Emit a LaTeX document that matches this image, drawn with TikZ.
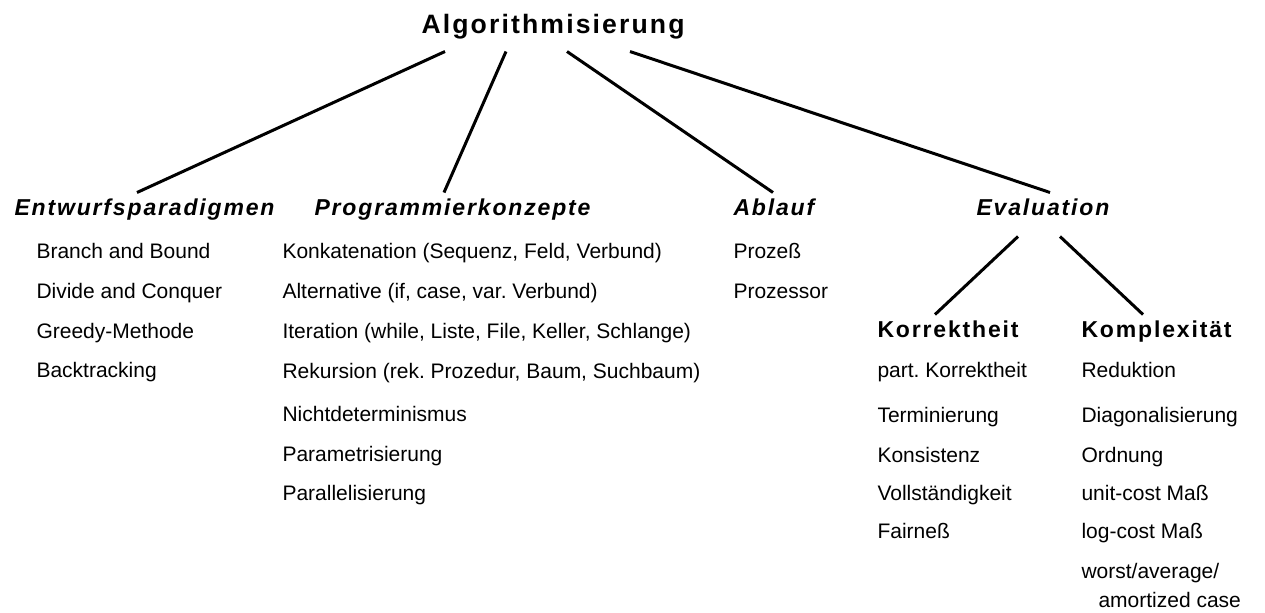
\documentclass[tikz,border=0pt]{standalone}
\usepackage{fontspec}
\setmainfont{Liberation Sans}
\newfontfamily\headfont[LetterSpace=8]{Liberation Sans}
\frenchspacing

\tikzset{
    root/.style={anchor=base west, inner sep=0pt, text depth=8.5pt,
        font=\fontsize{13.3}{16}\selectfont\headfont\bfseries},
    head/.style={anchor=base west, inner sep=0pt, text height=10.5pt, text depth=10pt,
        font=\fontsize{11.5}{14}\selectfont\headfont\bfseries\itshape},
    subhead/.style={anchor=base west, inner sep=0pt, text height=10.5pt,
        font=\fontsize{11.5}{14}\selectfont\headfont\bfseries},
    item/.style={anchor=base west, inner sep=0pt, align=left,
        font=\fontsize{10.5}{14.5}\selectfont\frenchspacing}
}

\begin{document}
\begin{tikzpicture}[x=0.5pt, y=-0.5pt, line width=1.5pt]
    % Page frame
    \useasboundingbox (0,0) rectangle (1265,612);

    % Title
    \node[root] (alg) at (420,33) {Algorithmisierung};

    % The four areas
    \node[head] (ent)  at (13,215)  {Entwurfsparadigmen};
    \node[head] (prog) at (313,215) {Programmierkonzepte};
    \node[head] (abl)  at (732,215) {Ablauf};
    \node[head] (eval) at (975,215) {Evaluation};

    % Evaluation splits in two
    \node[subhead] (kor) at (876,337)  {Korrektheit};
    \node[subhead] (kom) at (1080,337) {Komplexität};

    % Lines from the title down to the areas
    \draw ([xshift=12.5pt]alg.south west) -- ([xshift=62pt]ent.north west);
    \draw ([xshift=43pt]alg.south west)   -- ([xshift=65.5pt]prog.north west);
    \draw ([xshift=73.5pt]alg.south west) -- ([xshift=20.5pt]abl.north west);
    \draw ([xshift=105pt]alg.south west)  -- ([xshift=37.5pt]eval.north west);

    % Lines below Evaluation
    \draw ([xshift=21.5pt]eval.south west) -- ([xshift=29.5pt]kor.north west);
    \draw ([xshift=42.5pt]eval.south west) -- ([xshift=31.5pt]kom.north west);

    % Items of each area
    \foreach \txt/\y [count=\i] in {Branch and Bound/258, Divide and Conquer/298,
            Greedy-Methode/338, Backtracking/377}
        \node[item] (ent\i) at (35,\y) {\txt};

    \foreach \txt/\y [count=\i] in {{Konkatenation (Sequenz, Feld, Verbund)}/258,
            {Alternative (if, case, var. Verbund)}/298,
            {Iteration (while, Liste, File, Keller, Schlange)}/338,
            {Rekursion (rek. Prozedur, Baum, Suchbaum)}/378,
            Nichtdeterminismus/421, Parametrisierung/461, Parallelisierung/500}
        \node[item] (prog\i) at (281,\y) {\txt};

    \foreach \txt/\y [count=\i] in {Prozeß/258, Prozessor/298}
        \node[item] (abl\i) at (732,\y) {\txt};

    \foreach \txt/\y [count=\i] in {part. Korrektheit/377, Terminierung/422,
            Konsistenz/462, Vollständigkeit/500, Fairneß/538}
        \node[item] (kor\i) at (876,\y) {\txt};

    \foreach \txt/\y [count=\i] in {Reduktion/377, Diagonalisierung/422,
            Ordnung/462, unit-cost Maß/500, log-cost Maß/538}
        \node[item] (kom\i) at (1080,\y) {\txt};
    % two lines, placed by the baseline of the last one
    \node[item] (kom6) at (1080,607) {worst/average/\\\hspace*{8.5pt}amortized case};
\end{tikzpicture}
\end{document}
